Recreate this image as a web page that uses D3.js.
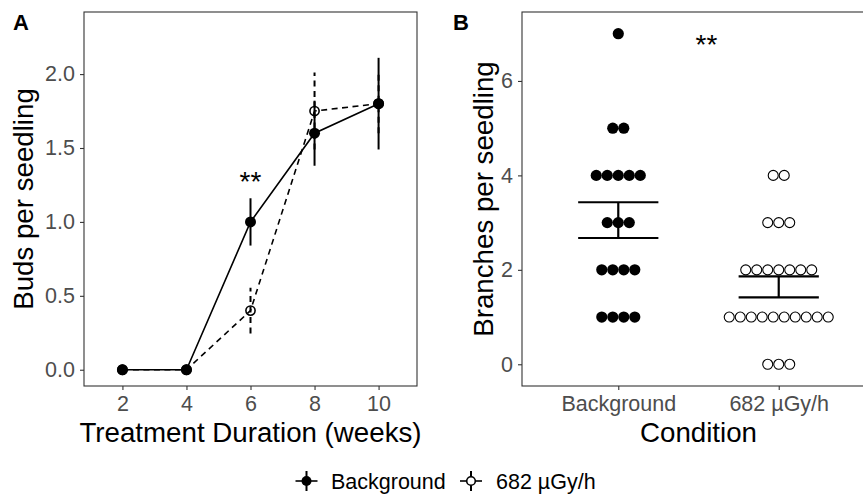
<!DOCTYPE html>
<html>
<head>
<meta charset="utf-8">
<script src="https://cdn.jsdelivr.net/npm/d3@7"></script>
<style>
  body { margin: 0; background: #fff; }
  svg { display: block; font-family: "Liberation Sans", Arial, sans-serif; }
</style>
</head>
<body>
<div id="chart"></div>
<script>
// panel A: buds per seedling over time (mean and SE)
var weeks = [2, 4, 6, 8, 10];
var bgMean = [0, 0, 1.0, 1.6, 1.8];
var bgSE = [0, 0, 0.16, 0.22, 0.31];
var radMean = [0, 0, 0.4, 1.75, 1.8];
var radSE = [0, 0, 0.155, 0.26, 0.2];
var weekTicks = [2, 4, 6, 8, 10];
var budTicks = [0, 0.5, 1.0, 1.5, 2.0];

// panel B: branches per seedling, one value per seedling
var conditions = ["Background", "682 µGy/h"];
var bgBranches = [7, 5, 5, 4, 4, 4, 4, 4, 3, 3, 3, 2, 2, 2, 2, 1, 1, 1, 1];
var radBranches = [4, 4, 3, 3, 3, 2, 2, 2, 2, 2, 2, 2, 1, 1, 1, 1, 1, 1, 1, 1, 1, 1, 0, 0, 0];
var branchTicks = [0, 2, 4, 6];

var W = 863, H = 496;
var tickCol = "#4d4d4d", frameCol = "#333333";
var tickFont = 21.5, titleFont = 27.7;

var svg = d3.select("#chart").append("svg")
	.attr("width", W)
	.attr("height", H);

// ---------- panel A ----------
var a = {left: 84, right: 417, top: 12, bottom: 386};
var xA = d3.scaleLinear().domain([0.8, 11.2]).range([a.left, a.right]);
var yA = d3.scaleLinear().domain([-0.11, 2.42]).range([a.bottom, a.top]);

function frame(p) {
	svg.append("rect")
		.attr("x", p.left).attr("y", p.top)
		.attr("width", p.right - p.left).attr("height", p.bottom - p.top)
		.attr("fill", "none").attr("stroke", frameCol).attr("stroke-width", 1.1);
}

function styleAxis(g) {
	g.select(".domain").remove();
	g.selectAll(".tick line").attr("stroke", frameCol).attr("stroke-width", 1.1);
	g.selectAll(".tick text").attr("fill", tickCol).attr("font-size", tickFont)
		.attr("font-family", "Liberation Sans, Arial, sans-serif");
}

frame(a);
svg.append("g")
	.attr("transform", "translate(0," + a.bottom + ")")
	.call(d3.axisBottom(xA).tickValues(weekTicks).tickSize(4).tickPadding(6).tickFormat(d3.format("d")))
	.call(styleAxis);
svg.append("g")
	.attr("transform", "translate(" + a.left + ",0)")
	.call(d3.axisLeft(yA).tickValues(budTicks).tickSize(4).tickPadding(5).tickFormat(d3.format(".1f")))
	.call(styleAxis);

var seriesA = [
	{name: "682 µGy/h", mean: radMean, se: radSE, dash: "6,4.5", filled: false},
	{name: "Background", mean: bgMean, se: bgSE, dash: null, filled: true}
];

var line = d3.line()
	.x(function(d) { return xA(d.x); })
	.y(function(d) { return yA(d.y); });

seriesA.forEach(function(s) {
	var pts = weeks.map(function(w, i) { return {x: w, y: s.mean[i], se: s.se[i]}; });
	var g = svg.append("g");
	g.append("path")
		.datum(pts)
		.attr("d", line)
		.attr("fill", "none")
		.attr("stroke", "#000")
		.attr("stroke-width", 1.6)
		.attr("stroke-dasharray", s.dash);
	g.selectAll("line.err")
		.data(pts.filter(function(d) { return d.se > 0; }))
		.enter().append("line")
			.attr("class", "err")
			.attr("x1", function(d) { return xA(d.x); })
			.attr("x2", function(d) { return xA(d.x); })
			.attr("y1", function(d) { return yA(d.y - d.se); })
			.attr("y2", function(d) { return yA(d.y + d.se); })
			.attr("stroke", "#000")
			.attr("stroke-width", 2)
			.attr("stroke-dasharray", s.dash);
	g.selectAll("circle")
		.data(pts)
		.enter().append("circle")
			.attr("cx", function(d) { return xA(d.x); })
			.attr("cy", function(d) { return yA(d.y); })
			.attr("r", s.filled ? 5.5 : 4.6)
			.attr("fill", s.filled ? "#000" : "none")
			.attr("stroke", "#000")
			.attr("stroke-width", s.filled ? 0 : 1.6);
});

svg.append("text")
	.attr("x", xA(6)).attr("y", yA(1.32) + 16)
	.attr("text-anchor", "middle").attr("font-size", 28)
	.text("**");

svg.append("text")
	.attr("x", 13).attr("y", 29.5)
	.attr("font-size", 22).attr("font-weight", "bold")
	.text("A");
svg.append("text")
	.attr("transform", "translate(33," + (a.top + a.bottom) / 2 + ") rotate(-90)")
	.attr("text-anchor", "middle").attr("font-size", titleFont)
	.text("Buds per seedling");
svg.append("text")
	.attr("x", (a.left + a.right) / 2).attr("y", 442)
	.attr("text-anchor", "middle").attr("font-size", titleFont)
	.text("Treatment Duration (weeks)");

// ---------- panel B ----------
var b = {left: 522, right: 875, top: 12, bottom: 386};
var xB = d3.scalePoint().domain(conditions).range([b.left, b.right]).padding(0.6);
var yB = d3.scaleLinear().domain([-0.46, 7.46]).range([b.bottom, b.top]);
var dotD = 11;

frame(b);
svg.append("g")
	.attr("transform", "translate(0," + b.bottom + ")")
	.call(d3.axisBottom(xB).tickSize(4).tickPadding(6))
	.call(styleAxis);
svg.append("g")
	.attr("transform", "translate(" + b.left + ",0)")
	.call(d3.axisLeft(yB).tickValues(branchTicks).tickSize(4).tickPadding(5))
	.call(styleAxis);

[{cat: conditions[0], vals: bgBranches, filled: true},
 {cat: conditions[1], vals: radBranches, filled: false}].forEach(function(s) {
	var stacks = d3.groups(s.vals, function(v) { return v; });
	var dots = [];
	stacks.forEach(function(st) {
		var n = st[1].length;
		st[1].forEach(function(v, i) { dots.push({v: v, off: (i - (n - 1) / 2) * dotD}); });
	});
	var g = svg.append("g");
	g.selectAll("circle")
		.data(dots)
		.enter().append("circle")
			.attr("cx", function(d) { return xB(s.cat) + d.off; })
			.attr("cy", function(d) { return yB(d.v); })
			.attr("r", s.filled ? 5.6 : 5)
			.attr("fill", s.filled ? "#000" : "#fff")
			.attr("stroke", "#000")
			.attr("stroke-width", s.filled ? 0 : 1.1);

	// mean +/- standard error
	var m = d3.mean(s.vals), se = d3.deviation(s.vals) / Math.sqrt(s.vals.length);
	var cx = xB(s.cat), hw = xB.step() * 0.25;
	g.append("line")
		.attr("x1", cx - hw).attr("x2", cx + hw)
		.attr("y1", yB(m + se)).attr("y2", yB(m + se));
	g.append("line")
		.attr("x1", cx - hw).attr("x2", cx + hw)
		.attr("y1", yB(m - se)).attr("y2", yB(m - se));
	g.append("line")
		.attr("x1", cx).attr("x2", cx)
		.attr("y1", yB(m - se)).attr("y2", yB(m + se));
	g.selectAll("line").attr("stroke", "#000").attr("stroke-width", 2.2);
});

svg.append("text")
	.attr("x", xB(conditions[0]) + xB.step() * 0.55).attr("y", yB(6.9) + 16)
	.attr("text-anchor", "middle").attr("font-size", 28)
	.text("**");

svg.append("text")
	.attr("x", 453).attr("y", 29.5)
	.attr("font-size", 22).attr("font-weight", "bold")
	.text("B");
svg.append("text")
	.attr("transform", "translate(493," + (b.top + b.bottom) / 2 + ") rotate(-90)")
	.attr("text-anchor", "middle").attr("font-size", titleFont)
	.text("Branches per seedling");
svg.append("text")
	.attr("x", (b.left + b.right) / 2).attr("y", 442)
	.attr("text-anchor", "middle").attr("font-size", titleFont)
	.text("Condition");

// ---------- legend ----------
var legY = 481;
var legend = svg.append("g");
var legItems = [
	{label: "Background", key: 306.5, text: 331, filled: true},
	{label: "682 µGy/h", key: 471, text: 496, filled: false}
];
legItems.forEach(function(it) {
	var g = legend.append("g");
	g.append("line")
		.attr("x1", it.key - 11).attr("x2", it.key + 11)
		.attr("y1", legY).attr("y2", legY)
		.attr("stroke", "#000").attr("stroke-width", 1.6);
	g.append("line")
		.attr("x1", it.key).attr("x2", it.key)
		.attr("y1", legY - 10).attr("y2", legY + 10)
		.attr("stroke", "#000").attr("stroke-width", 2);
	g.append("circle")
		.attr("cx", it.key).attr("cy", legY)
		.attr("r", it.filled ? 5 : 4.3)
		.attr("fill", it.filled ? "#000" : "#fff")
		.attr("stroke", "#000").attr("stroke-width", it.filled ? 0 : 1.6);
	g.append("text")
		.attr("x", it.text).attr("y", legY + 7.5)
		.attr("font-size", tickFont)
		.text(it.label);
});
</script>
</body>
</html>
